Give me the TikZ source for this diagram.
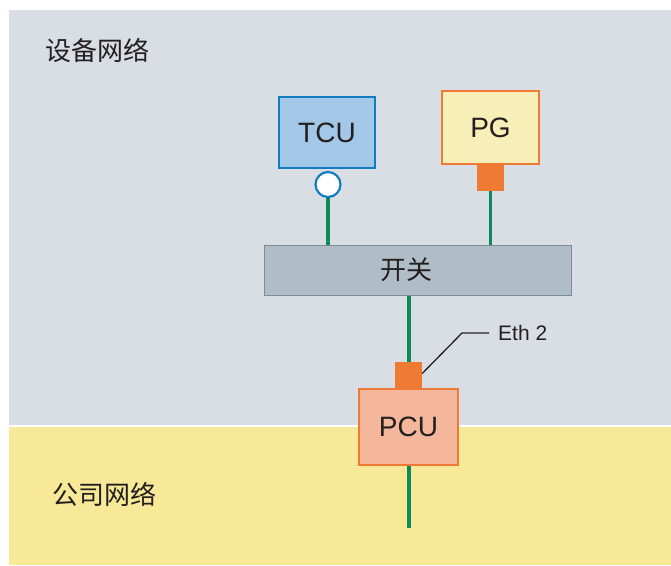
\documentclass[tikz,border=0pt]{standalone}
\usepackage{fontspec}
\setmainfont{Liberation Sans}
\newfontfamily\cjk{Noto Sans CJK SC}
\definecolor{bggray}{HTML}{D9DDE4}
\definecolor{bgyellow}{HTML}{F7E998}
\definecolor{tcufill}{HTML}{A3C7E6}
\definecolor{tculine}{HTML}{127CC0}
\definecolor{pgfill}{HTML}{F7EEB8}
\definecolor{orng}{HTML}{EE7A33}
\definecolor{swfill}{HTML}{B1BDC6}
\definecolor{swline}{HTML}{7A8C98}
\definecolor{pcufill}{HTML}{F4B79B}
\definecolor{netgreen}{HTML}{0B8A5A}
\definecolor{txt}{HTML}{231F20}
\tikzset{
  devbox/.style={draw, line width=2.5pt, inner sep=0pt, text=txt, font=\fontsize{28}{32}\selectfont},
  portsq/.style={fill=orng, draw=none, minimum width=27pt, minimum height=27pt, inner sep=0pt},
  netline/.style={draw=netgreen, line width=3.5pt},
  cjklabel/.style={text=txt, font=\cjk\fontsize{26}{30}\selectfont, inner sep=0pt},
  leader/.style={draw=txt, line width=1.3pt}
}
\begin{document}
\begin{tikzpicture}[x=1pt,y=-1pt]
\useasboundingbox (0,0) rectangle (671,565);
\fill[white] (0,0) rectangle (671,565);
\fill[bggray] (9,10) rectangle (671,425);
\fill[bgyellow] (9,426.5) rectangle (671,565);

\node[cjklabel] (devnet) at (97.5,50) {设备网络};
\node[cjklabel] (compnet) at (104,494) {公司网络};

\node[devbox, fill=tcufill, draw=tculine, minimum width=96pt, minimum height=71pt] (tcu) at (327,132.5) {TCU};
\node[circle, draw=tculine, fill=white, line width=2.2pt, minimum size=25pt, inner sep=0pt] (tcuport) at (328,184.5) {};
\node[devbox, fill=pgfill, draw=orng, minimum width=97pt, minimum height=73pt] (pg) at (490.5,127.5) {PG};
\node[portsq] (pgport) at (490.5,177.5) {};

\node[fill=swfill, draw=swline, line width=1.8pt, minimum width=307pt, minimum height=50pt, inner sep=0pt] (switch) at (418,270.5) {};
\node[cjklabel] (switchtext) at (406,270) {开关};

\node[portsq] (pcuport) at (408.5,375.5) {};
\node[devbox, fill=pcufill, draw=orng, minimum width=99pt, minimum height=76pt] (pcu) at (408.5,427) {PCU};

\coordinate (xline) at (409,0);
\coordinate (pcuend) at (409,528);
\draw[netline] (tcuport.south) -- (tcuport.south |- switch.north);
\draw[netline] (pgport.south) -- (pgport.south |- switch.north);
\draw[netline] (switch.south -| xline) -- (pcuport.north -| xline);
\draw[netline] (pcu.south -| xline) -- (pcuend);

\node[text=txt, font=\fontsize{21}{25}\selectfont, anchor=west, inner sep=0pt] (eth) at (498,333) {Eth 2};
\coordinate (ethbend) at (462,333);
\draw[leader] ([yshift=2pt]pcuport.east) -- (ethbend) -- ([xshift=-9pt]eth.west);
\end{tikzpicture}
\end{document}
